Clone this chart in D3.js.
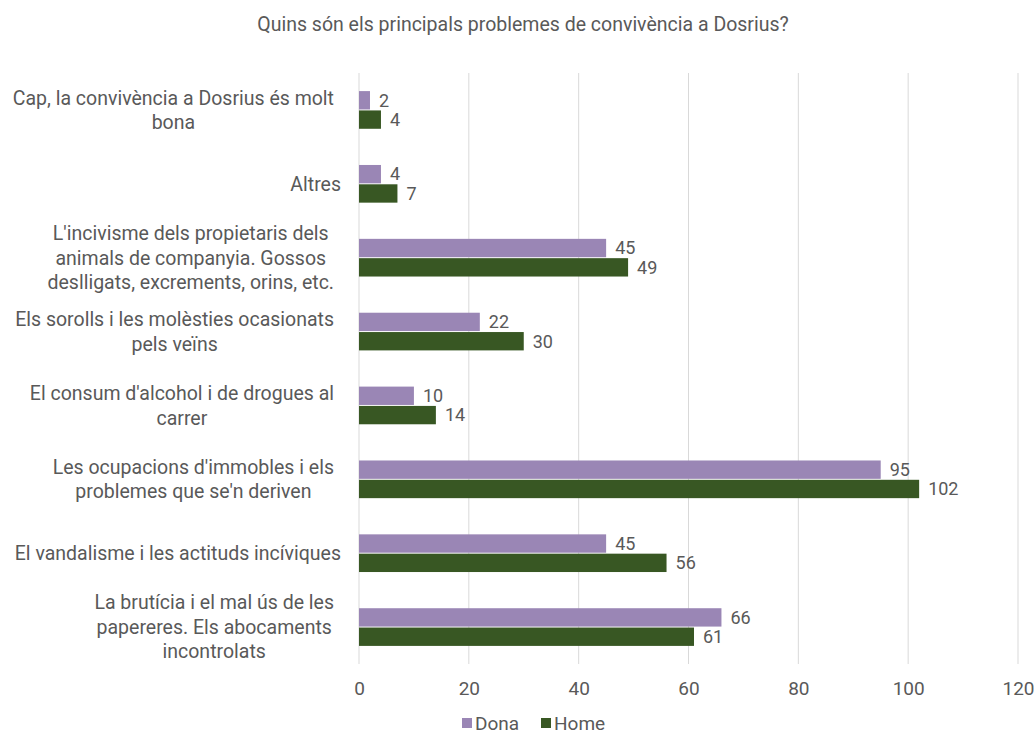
<!DOCTYPE html>
<html lang="ca">
<head>
<meta charset="UTF-8">
<script src="https://d3js.org/d3.v7.min.js"></script>
<title>Problemes de convivència</title>
<style>
  body { margin: 0; background: #fff; }
  text { font-family: Roboto, "Liberation Sans", sans-serif; fill: #595959; }
</style>
</head>
<body>
<div id="grafic"></div>
<script>
// dades
var categories = [
  "Cap, la convivència a Dosrius és molt|bona",
  "Altres",
  "L'incivisme dels propietaris dels|animals de companyia. Gossos|deslligats, excrements, orins, etc.",
  "Els sorolls i les molèsties ocasionats|pels veïns",
  "El consum d'alcohol i de drogues al|carrer",
  "Les ocupacions d'immobles i els|problemes que se'n deriven",
  "El vandalisme i les actituds incíviques",
  "La brutícia i el mal ús de les|papereres. Els abocaments|incontrolats"
]
var dona = [2, 4, 45, 22, 10, 95, 45, 66]
var home = [4, 7, 49, 30, 14, 102, 56, 61]
var series = ["Dona", "Home"]
var ticks = [0, 20, 40, 60, 80, 100, 120]

var colors = { Dona: "#9a86b5", Home: "#385723" }

var W = 1035, H = 734
var mLeft = 359, mRight = 1018, mTop = 73, mBottom = 664

var svg = d3.select("#grafic").append("svg")
  .attr("width", W).attr("height", H)

svg.append("text")
  .attr("x", 523).attr("y", 31)
  .attr("text-anchor", "middle")
  .style("font-size", "19.5px")
  .text("Quins són els principals problemes de convivència a Dosrius?")

var x = d3.scaleLinear().domain([0, 120]).range([mLeft, mRight])
var y = d3.scaleBand().domain(d3.range(categories.length)).range([mTop, mBottom])
  .paddingInner(0.49).paddingOuter(0.245)
var ySub = d3.scaleBand().domain(series).range([0, y.bandwidth()]).paddingInner(0.05)

// graella
svg.append("g").selectAll("line").data(ticks).enter().append("line")
  .attr("x1", d => x(d)).attr("x2", d => x(d))
  .attr("y1", mTop).attr("y2", mBottom)
  .attr("stroke", "#d9d9d9").attr("stroke-width", 1)

// eix x
var xAxis = svg.append("g")
  .attr("transform", "translate(0," + mBottom + ")")
  .call(d3.axisBottom(x).tickValues(ticks).tickSize(0).tickPadding(18))
xAxis.select(".domain").remove()
xAxis.selectAll("text").style("font-size", "19px").attr("fill", "#595959")
  .style("font-family", "Roboto, sans-serif")

// barres
var rows = categories.map((c, i) => ({ i: i, vals: [{ s: "Dona", v: dona[i] }, { s: "Home", v: home[i] }] }))
var g = svg.append("g").selectAll("g").data(rows).enter().append("g")
  .attr("transform", d => "translate(0," + y(d.i) + ")")

g.selectAll("rect").data(d => d.vals).enter().append("rect")
  .attr("x", x(0)).attr("y", d => ySub(d.s))
  .attr("width", d => x(d.v) - x(0))
  .attr("height", ySub.bandwidth())
  .attr("fill", d => colors[d.s])

g.selectAll("text.val").data(d => d.vals).enter().append("text")
  .attr("class", "val")
  .attr("x", d => x(d.v) + 9)
  .attr("y", d => ySub(d.s) + ySub.bandwidth() / 2)
  .attr("dy", "0.35em")
  .style("font-size", "18px")
  .attr("fill", "#404040")
  .text(d => d.v)

// etiquetes de categoria
var lh = 24.5
categories.forEach(function (c, i) {
  var lines = c.split("|")
  var cy = y(i) + y.bandwidth() / 2
  var t = svg.append("g")
  var texts = lines.map(function (l, k) {
    return t.append("text")
      .attr("y", cy + (k - (lines.length - 1) / 2) * lh)
      .attr("dy", "0.35em")
      .style("font-size", "19.5px")
      .text(l)
  })
  var maxW = d3.max(texts, tt => tt.node().getComputedTextLength())
  var rx = lines.length > 1 ? 334 : 341
  texts.forEach(tt => tt.attr("x", rx - maxW / 2).attr("text-anchor", "middle"))
})

// llegenda
var leg = svg.append("g").attr("transform", "translate(462,723)")
series.forEach(function (s, i) {
  var lg = leg.append("g").attr("transform", "translate(" + (i * 79) + ",0)")
  lg.append("rect").attr("x", 0).attr("y", -5).attr("width", 10).attr("height", 10).attr("fill", colors[s])
  lg.append("text").attr("x", 13).attr("dy", "0.35em").style("font-size", "19px").text(s)
})
</script>
</body>
</html>
